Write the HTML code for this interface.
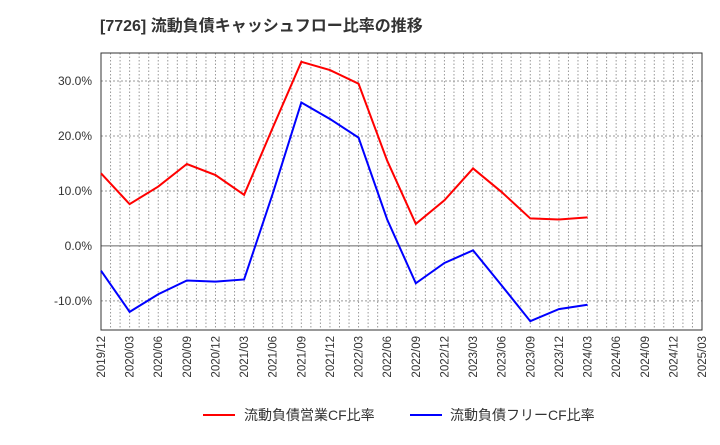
<!DOCTYPE html>
<html><head><meta charset="utf-8"><style>
body{margin:0;background:#fff;font-family:"Liberation Sans","Noto Sans CJK JP",sans-serif;}
</style></head><body>
<svg width="720" height="440" xmlns="http://www.w3.org/2000/svg">
<text x="100" y="31" font-size="16" font-weight="bold" fill="#333" font-family="Liberation Sans, Noto Sans CJK JP, sans-serif">[7726]  流動負債キャッシュフロー比率の推移</text>
<g id="grid"></g>
<g id="axes"></g>
<g id="series"></g>
<g>
<line x1="203" y1="415" x2="235" y2="415" stroke="#ff0000" stroke-width="2"/>
<text x="244" y="420" font-size="14" fill="#333">流動負債営業CF比率</text>
<line x1="410" y1="415" x2="442" y2="415" stroke="#0000ff" stroke-width="2"/>
<text x="450" y="420" font-size="14" fill="#333">流動負債フリーCF比率</text>
</g>
</svg>
<script>
const categories=["2019/12","2020/03","2020/06","2020/09","2020/12","2021/03","2021/06","2021/09","2021/12","2022/03","2022/06","2022/09","2022/12","2023/03","2023/06","2023/09","2023/12","2024/03","2024/06","2024/09","2024/12","2025/03"];
const operatingCF=[13.2,7.6,10.8,14.9,12.9,9.3,21.5,33.5,32.0,29.5,15.5,4.0,8.3,14.1,9.8,5.0,4.8,5.2];
const freeCF=[-4.5,-12.0,-8.8,-6.3,-6.5,-6.1,9.5,26.1,23.1,19.7,4.8,-6.8,-3.1,-0.8,-7.2,-13.7,-11.5,-10.7];
const yTicks=[-10,0,10,20,30];
const L=101,R=702,T=53,B=330,yMin=-15.3,yMax=35.1;
const NS="http://www.w3.org/2000/svg";
const xs=i=>L+(R-L)*i/(categories.length-1);
const ys=v=>B-(v-yMin)/(yMax-yMin)*(B-T);
function mk(tag,attrs,parent){const e=document.createElementNS(NS,tag);for(const k in attrs)e.setAttribute(k,attrs[k]);parent.appendChild(e);return e;}
const grid=document.getElementById('grid'),axes=document.getElementById('axes'),series=document.getElementById('series');
const months=(categories.length-1)*3;
for(let m=1;m<months;m++){const x=L+(R-L)*m/months;const l=mk('line',{x1:x,x2:x,y1:T,y2:B,stroke:'#999','stroke-dasharray':'1.5,2','stroke-width':1},grid);

}
yTicks.forEach(v=>{const y=ys(v);const l=mk('line',{x1:L,x2:R,y1:y,y2:y,stroke:v===0?'#666':'#999','stroke-dasharray':v===0?'':'2,2','stroke-width':1},grid);


const t=mk('text',{x:L-9,y:y+4,'text-anchor':'end','font-size':12,fill:'#333'},axes);t.textContent=v.toFixed(1)+'%';

});
const fr=mk('rect',{x:L,y:T,width:R-L,height:B-T,fill:'none',stroke:'#333','stroke-width':1},axes);


categories.forEach((c,i)=>{const x=xs(i);const t=mk('text',{transform:`translate(${x+4},${B+6}) rotate(-90)`,'text-anchor':'end','font-size':11.5,fill:'#333'},axes);t.textContent=c;

});
function line(data,color,name){const p=mk('polyline',{points:data.map((v,i)=>xs(i)+','+ys(v)).join(' '),fill:'none',stroke:color,'stroke-width':2},series);

}
line(operatingCF,'#ff0000','operating-cf-line');
line(freeCF,'#0000ff','free-cf-line');
</script>
</body></html>
